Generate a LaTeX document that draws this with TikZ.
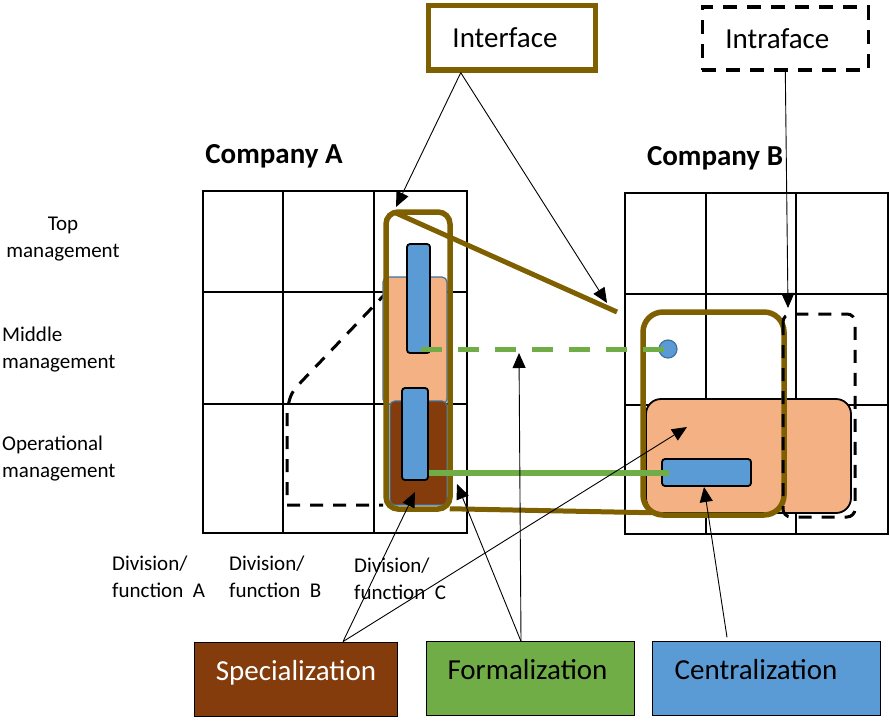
\documentclass[tikz,border=0pt]{standalone}
\usepackage{fontspec}
\setmainfont{Carlito}
\usetikzlibrary{arrows.meta}

\definecolor{ifcol}{HTML}{7F6000}
\definecolor{peach}{HTML}{F4B183}
\definecolor{rust}{HTML}{843C0C}
\definecolor{barblue}{HTML}{5B9BD5}
\definecolor{rim}{HTML}{41719C}
\definecolor{linkgreen}{HTML}{70AD47}

\begin{document}
\begin{tikzpicture}[x=1pt,y=-1pt,
  cellline/.style={line width=1.5pt},
  intra/.style={line width=3pt, dash pattern=on 13pt off 10pt},
  iface/.style={draw=ifcol, line width=5.5pt},
  bar/.style={draw, line width=1.8pt, fill=barblue, rounded corners=3pt, inner sep=0pt},
  link/.style={draw=linkgreen, line width=5pt},
  pointer/.style={line width=0.9pt, -{Triangle[length=15pt,width=13pt]}},
  factor/.style={draw, line width=0.8pt, minimum height=74, inner sep=0pt,
                 text depth=18pt, font=\fontsize{29}{33}\selectfont},
  lbl/.style={font=\fontsize{21}{27}\selectfont, align=left, inner sep=0pt}]
  \useasboundingbox (0,0) rectangle (890,720);

  % Company A grid
  \draw [cellline] (203,191) rectangle (467,533);
  \foreach \x in {283,374} \draw [cellline] (\x,191) -- (\x,533);
  \foreach \y in {292,404} \draw [cellline] (203,\y) -- (467,\y);

  % Company B grid
  \draw [cellline] (625,193) rectangle (888,534);
  \foreach \x in {706,796} \draw [cellline] (\x,193) -- (\x,534);
  \foreach \y in {294,405} \draw [cellline] (625,\y) -- (888,\y);

  \node [font=\bfseries\fontsize{29}{33}\selectfont] (compA) at (274,156) {Company A};
  \node [font=\bfseries\fontsize{29}{33}\selectfont] (compB) at (715,158) {Company B};

  \node [lbl, align=center] (top) at (63,239) {Top\\management};
  \node [lbl, anchor=west] (middle) at (2,349.5) {Middle\\management};
  \node [lbl, anchor=west] (oper) at (2,459) {Operational\\management};

  \node [lbl, anchor=west] (divA) at (112,577) {Division/\\function~ A};
  \node [lbl, anchor=west] (divB) at (229,577) {Division/\\function~ B};
  \node [lbl, anchor=west] (divC) at (354,579) {Division/\\function~ C};

  % company A: intraface outline, shaded cells, interface box
  \draw [intra] (388,291) -- (302,381) .. controls (291,393) .. (287,410)
         -- (287,505) -- (383,505);
  \draw [draw=rim, line width=1.2pt, fill=peach, rounded corners=5pt]
         (383,277) rectangle (447,404);
  \draw [draw=rim, line width=1.2pt, fill=rust, rounded corners=5pt]
         (390,401) rectangle (447,505);
  \node [iface, rounded corners=12pt, minimum width=64, minimum height=297, inner sep=0pt]
         (ifA) at (418,360.5) {};
  \node [bar, minimum width=23, minimum height=109] (barA1) at (418.5,298.5) {};
  \node [bar, minimum width=26, minimum height=92] (barA2) at (415,434) {};

  % company B: shaded cells, interface box, intraface outline
  \draw [line width=1.8pt, fill=peach, rounded corners=15pt] (646,399) rectangle (851,513);
  \node [iface, rounded corners=20pt, minimum width=141, minimum height=203, inner sep=0pt]
         (ifB) at (713.5,413.5) {};
  \draw [intra, rounded corners=8pt] (783,314) rectangle (855,517);
  \node [bar, minimum width=89, minimum height=27] (barB) at (706.5,472.5) {};
  \node [circle, draw=rim, line width=1.2pt, fill=barblue, minimum size=18, inner sep=0pt]
         (dot) at (668,349) {};

  % interface between the two companies
  \path (617,312) coordinate (ifend);
  \draw [ifcol, line width=5pt] ([xshift=11pt,yshift=-3pt]ifA.north west) -- (ifend);
  \draw [ifcol, line width=5pt] ([xshift=-3pt,yshift=3pt]ifA.south east)
         -- ([xshift=12pt,yshift=5pt]ifB.south west);

  % formalization links
  \path (barA1.south east |- dot.center) coordinate (dashstart);
  \draw [link, dash pattern=on 21pt off 16pt] ([xshift=-10pt]dashstart) -- (dot.center);
  \draw [link, line width=6pt] (barA2.east |- barB.west) -- ([xshift=8pt]barB.west);

  % legend boxes
  \node [draw=ifcol, line width=5.5pt, minimum width=167, minimum height=64.5,
         font=\fontsize{29}{33}\selectfont] (interface) at (512,37.7) {\hspace*{-14pt}Interface};
  \node [draw, line width=3.5pt, dash pattern=on 14pt off 10pt, minimum width=166,
         minimum height=63, font=\fontsize{29}{33}\selectfont] (intraface) at (785.3,38.3) {\hspace*{-16pt}Intraface};

  \node [factor, fill=rust, text=white, minimum width=203] (spec) at (296,679) {Specialization};
  \node [factor, fill=linkgreen, minimum width=208] (form) at (530,678.7) {\hspace*{-5pt}Formalization};
  \node [factor, fill=barblue, minimum width=228] (cent) at (766,678.7) {\hspace*{-20pt}Centralization};

  % pointers
  \path (396,207) coordinate (tA)
        (607,303) coordinate (tLine)
        (788,308) coordinate (tIntra)
        (519,353) coordinate (tDash)
        (457,484) coordinate (tBottom)
        (415,492) coordinate (tRust)
        (687,427) coordinate (tPeach)
        (704,487) coordinate (tBar);

  \draw [pointer] ([xshift=35pt]interface.south west) -- (tA);
  \draw [pointer] ([xshift=35pt]interface.south west) -- (tLine);
  \draw [pointer] (intraface.south) -- (tIntra);
  \draw [pointer] ([xshift=47pt]spec.north) -- (tRust);
  \draw [pointer] ([xshift=47pt]spec.north) -- (tPeach);
  \draw [pointer] ([xshift=-9pt]form.north) -- (tDash);
  \draw [pointer] ([xshift=-9pt]form.north) -- (tBottom);
  \draw [pointer] ([xshift=-39pt,yshift=4pt]cent.north) -- (tBar);

\end{tikzpicture}
\end{document}
